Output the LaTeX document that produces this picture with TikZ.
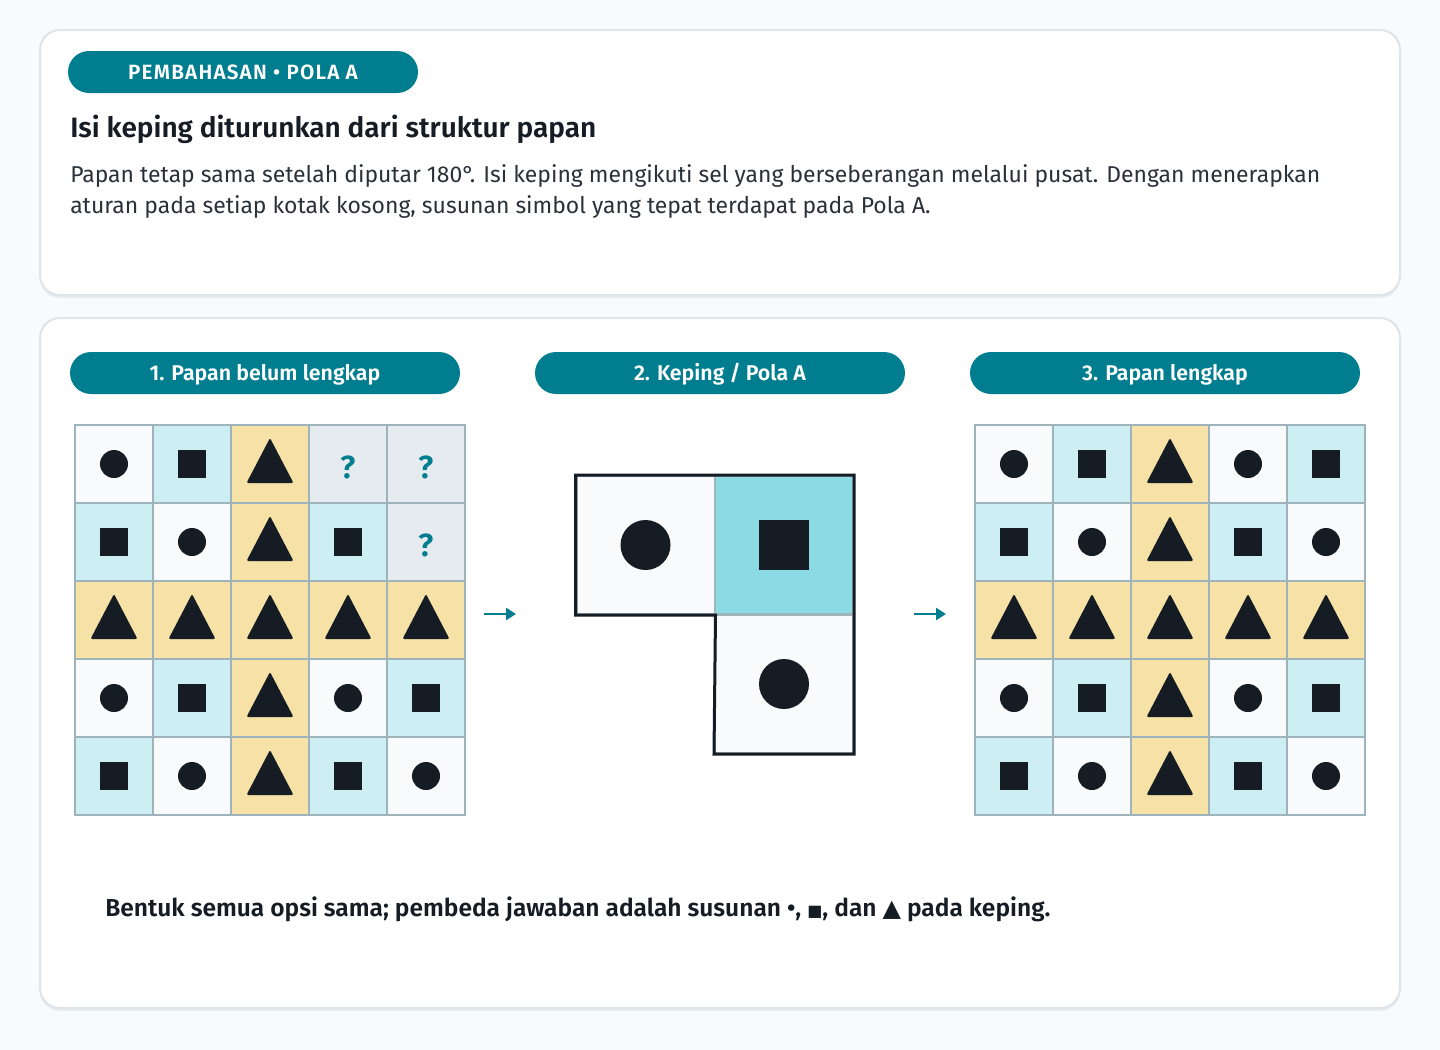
\documentclass[tikz,border=0pt]{standalone}
\usepackage{fontspec}
\setmainfont{Fira Sans}[BoldFont={* SemiBold}]
\newfontfamily\symfont{DejaVu Sans}
\usetikzlibrary{positioning,arrows.meta}
\definecolor{pagebg}{HTML}{F8FBFD}
\definecolor{cardline}{HTML}{DDE5EA}
\definecolor{cardshade}{HTML}{E6ECF0}
\definecolor{pillteal}{HTML}{007E8F}
\definecolor{ink}{HTML}{161C23}
\definecolor{bodyink}{HTML}{2A3139}
\definecolor{gridline}{HTML}{9FB3BC}
\definecolor{cellwhite}{HTML}{F8FAFC}
\definecolor{cellblue}{HTML}{CDEEF2}
\definecolor{cellyellow}{HTML}{F6E1A7}
\definecolor{cellgray}{HTML}{E5EBEF}
\definecolor{pieceblue}{HTML}{8CDAE3}

\begin{document}
\begin{tikzpicture}[x=0.75pt,y=-0.75pt,
  card/.style={fill=white,draw=cardline,line width=1.5pt,rounded corners=15pt},
  pill/.style={fill=pillteal,rounded corners=15.75pt,minimum height=31.5pt,inner sep=0pt,
    text=white,text height=11pt,text depth=0pt,font=\bfseries\fontsize{16}{18}\selectfont},
  cell/.style={draw=gridline,line width=1.5pt,minimum size=58.5pt,inner sep=0pt},
  cell-c/.style={cell,fill=cellwhite},
  cell-s/.style={cell,fill=cellblue},
  cell-t/.style={cell,fill=cellyellow},
  cell-q/.style={cell,fill=cellgray},
  bigcell/.style={cell,minimum size=103.5pt},
  pics/symc/.style={code={\fill[ink] (0,0) circle[radius=#1];}},
  pics/symc/.default=14,
  pics/syms/.style={code={\fill[ink] (-#1,-#1) rectangle (#1,#1);}},
  pics/syms/.default=14,
  pics/symt/.style={code={\fill[ink,rounded corners=1.5pt] (0,-26) -- (23.5,19) -- (-23.5,19) -- cycle;}},
  pics/symq/.style={code={\node[text=pillteal,font=\bfseries\fontsize{24}{24}\selectfont] at (0,3) {?};}},
  arrow/.style={draw=pillteal,line width=1.9pt,-{Triangle[length=7.5pt,width=9pt]}}]
\useasboundingbox (0,0) rectangle (1440,1050);
\fill[pagebg] (0,0) rectangle (1440,1050);

% cards
\fill[cardshade,rounded corners=15pt] (40,33) rectangle (1400,298);
\draw[card] (40,30) rectangle (1400,295);
\fill[cardshade,rounded corners=15pt] (40,321) rectangle (1400,1011);
\draw[card] (40,318) rectangle (1400,1008);

\node[pill,minimum width=262.5pt,font=\bfseries\fontsize{15.5}{17}\selectfont\addfontfeature{LetterSpace=6},text height=10.5pt] (tag) at (243,72) {PEMBAHASAN • POLA A};
\node[anchor=base west,inner sep=0pt,text=ink,font=\bfseries\fontsize{21}{25}\selectfont] (title) at (70,137) {Isi keping diturunkan dari struktur papan};
\node[anchor=base west,inner sep=0pt,text=bodyink,font=\fontsize{17.2}{20}\selectfont] (body1) at (70,182) {Papan tetap sama setelah diputar 180°. Isi keping mengikuti sel yang berseberangan melalui pusat. Dengan menerapkan};
\node[anchor=base west,inner sep=0pt,text=bodyink,font=\fontsize{17.2}{20}\selectfont] (body2) at (70,213) {aturan pada setiap kotak kosong, susunan simbol yang tepat terdapat pada Pola A.};

\node[pill,minimum width=292.5pt] (head1) at (265,373) {1. Papan belum lengkap};
\node[pill,minimum width=277.5pt] (head2) at (720,373) {2. Keping / Pola A};
\node[pill,minimum width=292.5pt] (head3) at (1165,373) {3. Papan lengkap};

% board before
\foreach \row [count=\r] in {{c,s,t,q,q},{s,c,t,s,q},{t,t,t,t,t},{c,s,t,c,s},{s,c,t,s,c}}
  \foreach \k [count=\c] in \row {
    \node[cell-\k] (g1-\r-\c) at ({114+78*(\c-1)},{464+78*(\r-1)}) {};
    \pic at (g1-\r-\c) {sym\k};
  }

% piece
\node[bigcell,fill=cellwhite] (pa) at (645.5,545) {};
\node[bigcell,fill=pieceblue] (pb) at (784,545) {};
\node[bigcell,fill=cellwhite] (pc) at (784,684) {};
\pic at (pa) {symc=25};
\pic at (pb) {syms=25};
\pic at (pc) {symc=25};
\draw[ink,line width=2.25pt,line join=miter] (pa.north west) -- (pb.north east) -- (pc.south east) -- (pc.south west) -- (pa.south east) -- (pa.south west) -- cycle;

% board after
\foreach \row [count=\r] in {{c,s,t,c,s},{s,c,t,s,c},{t,t,t,t,t},{c,s,t,c,s},{s,c,t,s,c}}
  \foreach \k [count=\c] in \row {
    \node[cell-\k] (g3-\r-\c) at ({1014+78*(\c-1)},{464+78*(\r-1)}) {};
    \pic at (g3-\r-\c) {sym\k};
  }

\coordinate (a1) at (484,614);
\coordinate[right=24pt of a1] (a2);
\coordinate (a3) at (914,614);
\coordinate[right=24pt of a3] (a4);
\draw[arrow] (a1) -- (a2);
\draw[arrow] (a3) -- (a4);

\node[anchor=base west,inner sep=0pt,text=ink,font=\bfseries\fontsize{18.4}{22}\selectfont] (note) at (105,916) {Bentuk semua opsi sama; pembeda jawaban adalah susunan •, {\symfont\fontsize{12}{14}\selectfont ■}, dan {\symfont\fontsize{18}{20}\selectfont ▲} pada keping.};
\end{tikzpicture}
\end{document}
